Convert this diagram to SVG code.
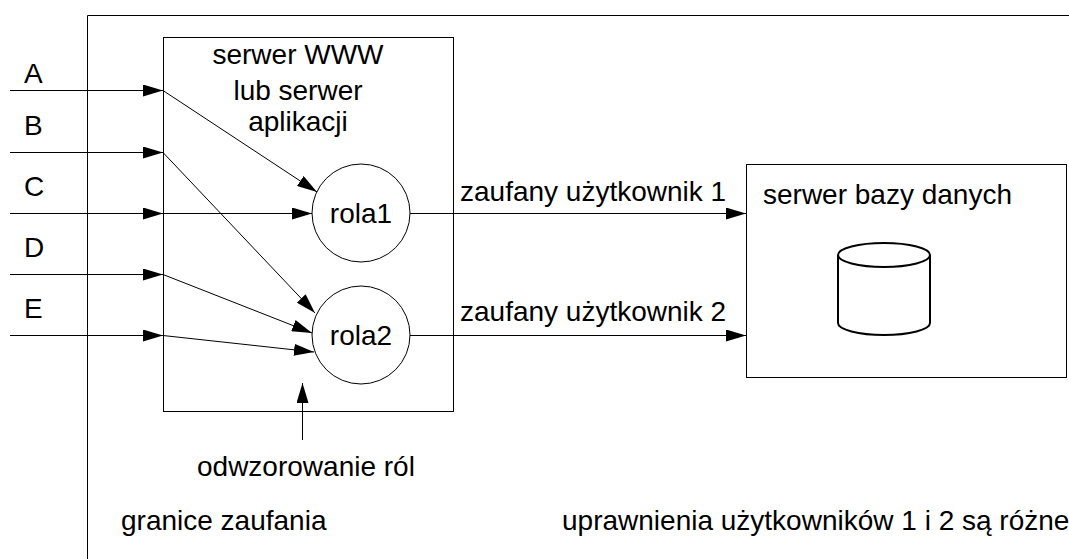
<svg xmlns="http://www.w3.org/2000/svg" width="1069" height="559" viewBox="0 0 1069 559">
  <style>
    text { font-family: "Liberation Sans", Arial, sans-serif; font-size: 28px; fill: #000; }
    .mid { text-anchor: middle; }
    .box { fill: #fff; stroke: #000; stroke-width: 1; }
    .line { fill: none; stroke: #000; stroke-width: 1; }
    .arrow { fill: none; stroke: #000; stroke-width: 1; marker-end: url(#head); }
    .db { fill: #fff; stroke: #000; stroke-width: 2; }
  </style>
  <defs>
    <marker id="head" markerUnits="userSpaceOnUse" markerWidth="20" markerHeight="12" refX="20" refY="6" orient="auto">
      <path d="M0,0 L20,6 L0,12 Z" fill="#000"/>
    </marker>
  </defs>
  <rect width="1069" height="559" fill="#fff"/>

  <!-- trust boundary -->
  <g id="trust-boundary">
    <path class="line" d="M87.5,559 V15.5 H1069"/>
    <text x="121" y="530">granice zaufania</text>
  </g>

  <!-- web / application server -->
  <g id="web-server">
    <rect class="box" x="163.5" y="37.5" width="290" height="374"/>
    <text class="mid" x="298" y="64">serwer WWW</text>
    <text class="mid" x="298" y="100">lub serwer</text>
    <text class="mid" x="298" y="131">aplikacji</text>
  </g>

  <g id="role1">
    <circle class="box" cx="361" cy="213" r="49"/>
    <text class="mid" x="361" y="223">rola1</text>
  </g>
  <g id="role2">
    <circle class="box" cx="361" cy="335" r="49"/>
    <text class="mid" x="361" y="345">rola2</text>
  </g>

  <!-- database server -->
  <g id="db-server">
    <rect class="box" x="746.5" y="164.5" width="320" height="213"/>
    <text x="763" y="204">serwer bazy danych</text>
    <path class="db" d="M838,255 V323 A46,12 0 0 0 930,323 V255"/>
    <ellipse class="db" cx="884" cy="255" rx="46" ry="12"/>
  </g>

  <!-- input users -->
  <g id="user-A"><text x="24" y="83">A</text></g>
  <g id="user-B"><text x="24" y="135">B</text></g>
  <g id="user-C"><text x="24" y="196">C</text></g>
  <g id="user-D"><text x="24" y="257">D</text></g>
  <g id="user-E"><text x="24" y="318">E</text></g>

  <g id="connectors">
    <!-- incoming requests -->
    <line class="arrow" x1="10" y1="90.5" x2="163" y2="90.5"/>
    <line class="arrow" x1="10" y1="152.5" x2="163" y2="152.5"/>
    <line class="arrow" x1="10" y1="213.5" x2="163" y2="213.5"/>
    <line class="arrow" x1="10" y1="274.5" x2="163" y2="274.5"/>
    <line class="arrow" x1="10" y1="335.5" x2="163" y2="335.5"/>
    <!-- role mapping -->
    <line class="arrow" x1="163" y1="90.5" x2="317" y2="192"/>
    <line class="arrow" x1="163" y1="152.5" x2="315" y2="313"/>
    <line class="arrow" x1="163" y1="213.5" x2="312" y2="213.5"/>
    <line class="arrow" x1="163" y1="274.5" x2="312" y2="333"/>
    <line class="arrow" x1="163" y1="335.5" x2="314" y2="352"/>
    <!-- trusted users to database -->
    <line class="arrow" x1="410" y1="213.5" x2="746" y2="213.5"/>
    <line class="arrow" x1="410" y1="335.5" x2="746" y2="335.5"/>
    <!-- role mapping pointer -->
    <line class="arrow" x1="302.5" y1="440" x2="302.5" y2="383"/>
  </g>

  <g id="connector-labels">
    <text x="460" y="201">zaufany użytkownik 1</text>
    <text x="460" y="321">zaufany użytkownik 2</text>
  </g>

  <g id="role-mapping-label">
    <text x="197" y="476">odwzorowanie ról</text>
  </g>
  <g id="privileges-note">
    <text x="562" y="530">uprawnienia użytkowników 1 i 2 są różne</text>
  </g>
</svg>
